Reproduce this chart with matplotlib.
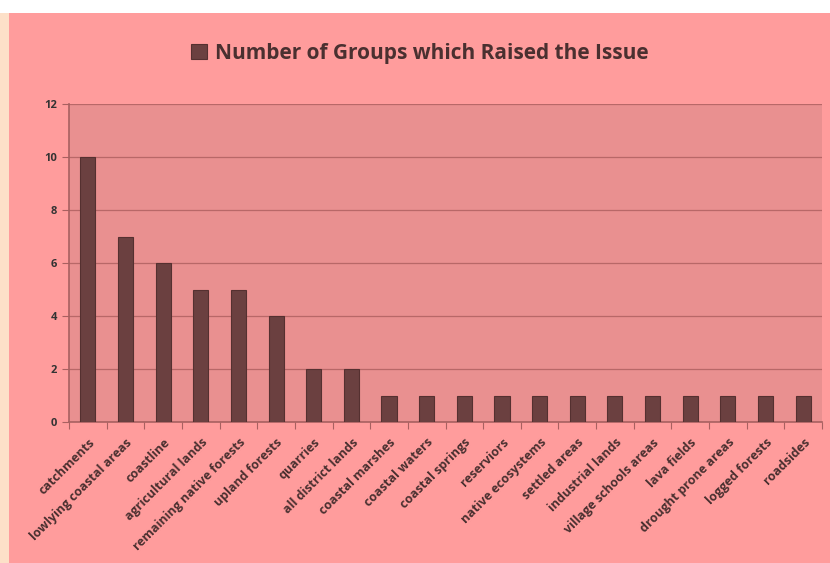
import matplotlib.pyplot as plt
from matplotlib.patches import Rectangle

categories = [
    "catchments", "lowlying coastal areas", "coastline", "agricultural lands",
    "remaining native forests", "upland forests", "quarries", "all district lands",
    "coastal marshes", "coastal waters", "coastal springs", "reserviors",
    "native ecosystems", "settled areas", "industrial lands", "village schools areas",
    "lava fields", "drought prone areas", "logged forests", "roadsides",
]
groups = [10, 7, 6, 5, 5, 4, 2, 2, 1, 1, 1, 1, 1, 1, 1, 1, 1, 1, 1, 1]
series_name = "Number of Groups which Raised the Issue"
y_ticks = [0, 2, 4, 6, 8, 10, 12]

W, H = 830, 563
PINK = "#ff9c9c"
PLOT_BG = "#e99090"
BAR = "#6b4040"
TEXT = "#4a3030"

plt.rcParams["font.family"] = ["Open Sans", "DejaVu Sans"]

fig = plt.figure(figsize=(W / 100, H / 100), dpi=100)
fig.patch.set_facecolor("white")
# pink slide area and peach left edge
fig.patches.append(Rectangle((9 / W, 0), 1, 1 - 13 / H, transform=fig.transFigure,
                             facecolor=PINK, edgecolor="none", zorder=-10))
fig.patches.append(Rectangle((0, 0), 9 / W, 1 - 13 / H, transform=fig.transFigure,
                             facecolor="#fde0c8", edgecolor="none", zorder=-10))

ax = fig.add_axes([69 / W, (H - 422) / H, (822 - 69) / W, (422 - 104) / H])
ax.set_facecolor(PLOT_BG)

x = range(len(categories))
bars = ax.bar(x, groups, width=0.4, color=BAR, edgecolor="#553030", linewidth=0.8,
              zorder=3, label=series_name)

ax.set_xlim(-0.5, len(categories) - 0.5)
ax.set_ylim(0, 12)
ax.set_yticks(y_ticks)
ax.set_yticklabels([str(v) for v in y_ticks], fontsize=8, fontweight="bold", color="#333333")
ax.yaxis.grid(True, color="#b86868", linewidth=0.9, zorder=1)
ax.set_axisbelow(True)

ax.set_xticks([i - 0.5 for i in range(len(categories) + 1)], minor=False)
ax.set_xticklabels([])
ax.set_xticks(list(x), minor=True)
ax.set_xticklabels(categories, minor=True, rotation=45, ha="right",
                   rotation_mode="anchor", fontsize=9, fontweight="bold", color=TEXT)
ax.tick_params(axis="x", which="minor", length=0, pad=10)
ax.tick_params(axis="x", which="major", length=5, color="#a86060", direction="out")
ax.tick_params(axis="y", length=5, color="#a86060", direction="out")

for s in ["top", "right"]:
    ax.spines[s].set_visible(False)
for s in ["left", "bottom"]:
    ax.spines[s].set_color("#a86060")
    ax.spines[s].set_linewidth(1.2)

fig.legend(handles=[bars], labels=[series_name], loc="center",
           bbox_to_anchor=(420 / W, 1 - 53 / H), frameon=False,
           prop={"size": 15, "weight": "bold"}, labelcolor=TEXT,
           handlelength=0.75, handleheight=0.75, handletextpad=0.4)

fig.savefig("out.png", dpi=100)
